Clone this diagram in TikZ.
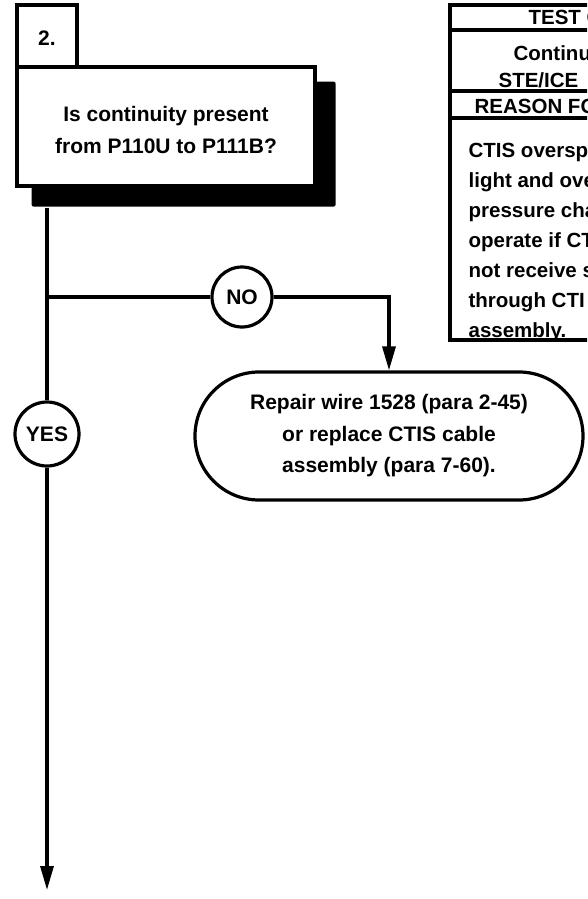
\documentclass[tikz,border=0pt]{standalone}
\usepackage{fontspec}
\setmainfont{Liberation Sans}
\usetikzlibrary{arrows.meta,shapes.misc}
\begin{document}
\begin{tikzpicture}[x=1pt,y=-1pt,line width=3.2pt,
  txt/.style={font=\fontsize{21}{31.5}\selectfont\bfseries},
  box/.style={draw,fill=white,inner sep=0pt,align=center,txt},
  lbl/.style={draw,fill=white,circle,inner sep=0pt,txt},
  tbl/.style={anchor=base west,inner sep=0pt,font=\fontsize{20.5}{30}\selectfont\bfseries},
  arr/.style={-{Triangle[length=24pt,width=13pt]}}]
\useasboundingbox (0,0) rectangle (587,899);
\clip (0,0) rectangle (587,899);
% shadow and question box
\node[fill=black,rounded corners=2pt,minimum width=304pt,minimum height=125pt,inner sep=0pt,anchor=north west] (shadow) at (30,80) {};
\node[box,minimum width=298pt,minimum height=119pt] (q) at (166,126.5) {\rule{0pt}{22pt}Is continuity present\\from P110U to P111B?};
\node[box,minimum width=60pt,minimum height=62pt] (num) at (47,36) {\rule{0pt}{19pt}2.};
% outcome box
\node[box,rounded rectangle,minimum width=388pt,minimum height=128pt] (fix) at (389,436) {Repair wire 1528 (para 2-45)\\or replace CTIS cable\\assembly (para 7-60).};
% labels
\node[lbl,minimum size=60pt] (no) at (242,297) {NO};
\node[lbl,minimum size=64pt] (yes) at (47,434) {YES};
\coordinate (br) at (47,297);
\coordinate (end) at (47,890);
% connectors
\draw (num.center |- shadow.south) -- (yes.north);
\draw[arr] (yes.south) -- (end);
\draw (br) -- (no.west);
\draw[arr] (no.east) -| (fix.north);
% test table (cut off at right edge)
\draw (450,5) rectangle (700,340);
\draw (450,30) -- (700,30);
\draw (450,91) -- (700,91);
\draw (450,118) -- (700,118);
\node[tbl] (t1) at (527,25) {TEST C};
\node[tbl] (t2) at (512,60) {Continu};
\node[tbl] (t3) at (497,87) {STE/ICE};
\node[tbl] (t4) at (473,113) {REASON FO};
\node[tbl] (b1) at (467,157) {CTIS oversp};
\node[tbl] (b2) at (467,187) {light and ove};
\node[tbl] (b3) at (467,217) {pressure cha};
\node[tbl] (b4) at (467,247) {operate if CT};
\node[tbl] (b5) at (467,277) {not receive s};
\node[tbl] (b6) at (467,307) {through CTI};
\node[tbl] (b7) at (467,337) {assembly.};
\end{tikzpicture}
\end{document}
